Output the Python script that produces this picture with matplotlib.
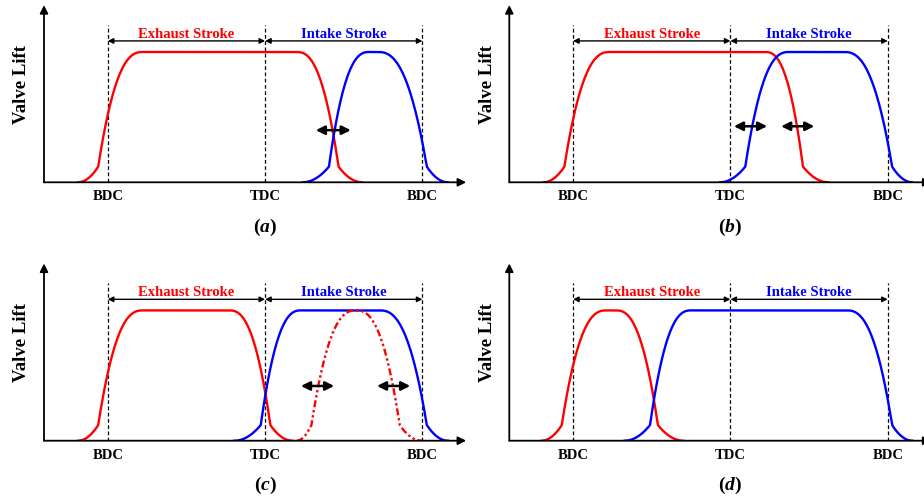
import numpy as np
import matplotlib.pyplot as plt

plt.rcParams['font.family'] = 'Liberation Serif'
plt.rcParams['mathtext.fontset'] = 'custom'
plt.rcParams['mathtext.bf'] = 'Liberation Serif:bold'
plt.rcParams['mathtext.it'] = 'Liberation Serif:bold:italic'
plt.rcParams['mathtext.rm'] = 'Liberation Serif:bold'

# crank angle positions of dead centres (deg)
dc_angles = [180, 360, 540]
dc_labels = ['BDC', 'TDC', 'BDC']
stroke_names = ['Exhaust Stroke', 'Intake Stroke']
stroke_colors = ['red', 'blue']
panel_labels = ['a', 'b', 'c', 'd']

# valve events: open, end of ramp, start of max lift, end of max lift, start of closing ramp, close
exhaust_a = [146, 169, 220, 396, 444, 471]
intake_a = [403, 433, 479, 489, 545, 569]
exhaust_b = [146, 170, 222, 400, 443, 472]
intake_b = [348, 377, 427, 490, 545, 568]
exhaust_c = [146, 169, 220, 319, 366, 391]
intake_c = [325, 355, 401, 491, 545, 569]
late_exhaust_c = [396, 413, 464, 464, 514, 539]
exhaust_d = [144, 167, 218, 229, 277, 306]
intake_d = [239, 268, 315, 493, 545, 568]

# double arrows showing phase shift: (start, end, lift)
shift_a = [(418, 458, 0.40)]
shift_b = [(364, 402, 0.43), (418, 456, 0.43)]
shift_c = [(401, 439, 0.42), (488, 526, 0.42)]
shift_d = []

ramp_lift = 0.12


def lift_profile(ev, n=400):
    o, r1, t1, t2, r2, c = ev
    seg = []
    t = np.linspace(0, 1, n)
    seg.append((o + (r1 - o) * t, ramp_lift * t**2))
    seg.append((r1 + (t1 - r1) * t, ramp_lift + (1 - ramp_lift) * (1 - (1 - t)**2.5)))
    seg.append((np.array([t1, t2]), np.array([1.0, 1.0])))
    seg.append((t2 + (r2 - t2) * t, ramp_lift + (1 - ramp_lift) * (1 - t**2.5)))
    seg.append((r2 + (c - r2) * t, ramp_lift * (1 - t)**2))
    x = np.concatenate([s[0] for s in seg])
    y = np.concatenate([s[1] for s in seg])
    return x, y


W, H = 924, 497
fig = plt.figure(figsize=(W / 100, H / 100), dpi=100)

x_min, x_max = 107, 590
y_max = 1.36
ax_w = (x_max - x_min) * 0.874
ax_h = y_max * 130.3
origins = [(44, 182.3), (509.3, 182.3), (44, 440.7), (509.3, 440.7)]

panels = [
    [(exhaust_a, 'red', '-'), (intake_a, 'blue', '-')],
    [(exhaust_b, 'red', '-'), (intake_b, 'blue', '-')],
    [(exhaust_c, 'red', '-'), (intake_c, 'blue', '-'), (late_exhaust_c, 'red', (0, (3, 1.2, 1, 1.2, 1, 1.2)))],
    [(exhaust_d, 'red', '-'), (intake_d, 'blue', '-')],
]
shifts = [shift_a, shift_b, shift_c, shift_d]

for i, (x0, y0) in enumerate(origins):
    ax = fig.add_axes([x0 / W, (H - y0) / H, ax_w / W, ax_h / H])
    ax.set_xlim(x_min, x_max)
    ax.set_ylim(0, y_max)
    ax.axis('off')

    # axes with arrow heads
    ax.annotate('', xy=(x_max, 0), xytext=(x_min, 0),
                arrowprops=dict(arrowstyle='-|>', color='black', lw=1.3,
                                mutation_scale=12, shrinkA=0, shrinkB=0),
                annotation_clip=False)
    ax.annotate('', xy=(x_min, y_max), xytext=(x_min, 0),
                arrowprops=dict(arrowstyle='-|>', color='black', lw=1.3,
                                mutation_scale=12, shrinkA=0, shrinkB=0),
                annotation_clip=False)

    for a, lab in zip(dc_angles, dc_labels):
        ax.plot([a, a], [0, 1.21], color='black', lw=0.9, ls=(0, (3, 2)))
        ax.text(a, -0.11, lab, ha='center', va='center', fontsize=10.5,
                fontweight='bold')

    for k in range(2):
        ax.annotate('', xy=(dc_angles[k + 1], 1.085), xytext=(dc_angles[k], 1.085),
                    arrowprops=dict(arrowstyle='<|-|>', color='black', lw=1.0,
                                    mutation_scale=8, shrinkA=0, shrinkB=0))
        ax.text((dc_angles[k] + dc_angles[k + 1]) / 2, 1.135, stroke_names[k],
                ha='center', va='center', fontsize=10.5, fontweight='bold',
                color=stroke_colors[k])

    for ev, col, ls in panels[i]:
        x, y = lift_profile(ev)
        ax.plot(x, y, color=col, lw=1.7, ls=ls)

    for s, e, lv in shifts[i]:
        ax.annotate('', xy=(e, lv), xytext=(s, lv),
                    arrowprops=dict(arrowstyle='<|-|>', color='black', lw=1.8,
                                    mutation_scale=13, shrinkA=0, shrinkB=0))

    ax.text(x_min - 22 / 0.874, 0.75, 'Valve Lift', rotation=90, ha='center',
            va='center', fontsize=13.5, fontweight='bold')
    ax.text(360, -0.345, r'$\mathbf{(}\mathit{' + panel_labels[i] + r'}\mathbf{)}$',
            ha='center', va='center', fontsize=14)

fig.savefig('out.png', dpi=100)
